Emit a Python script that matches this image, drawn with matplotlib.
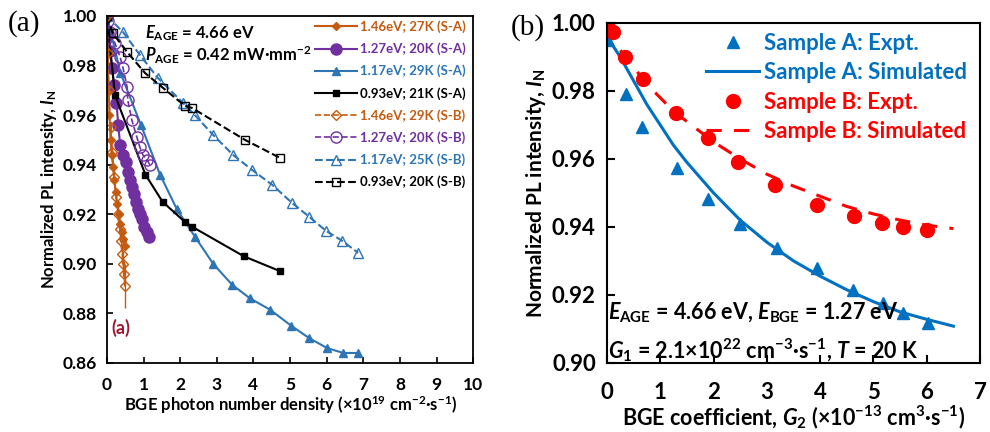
import numpy as np
import matplotlib.pyplot as plt
from matplotlib.lines import Line2D

plt.rcParams['font.family'] = ['Lato', 'DejaVu Sans']
plt.rcParams['font.weight'] = 'bold'
plt.rcParams['axes.labelweight'] = 'bold'
plt.rcParams['mathtext.fontset'] = 'custom'
plt.rcParams['mathtext.rm'] = 'Lato:bold'
plt.rcParams['mathtext.it'] = 'Lato:bold:italic'
plt.rcParams['mathtext.bf'] = 'Lato:bold'

# ---- panel (a) data: BGE photon density (1e19 cm^-2 s^-1) vs normalized PL
# sample A (filled markers, solid lines)
x_146A = [0, 0.02, 0.03, 0.05, 0.07, 0.10, 0.13, 0.17, 0.20, 0.24, 0.28, 0.32, 0.36, 0.40, 0.44, 0.48]
y_146A = [1.0, 0.990, 0.980, 0.970, 0.960, 0.950, 0.944, 0.939, 0.934, 0.929, 0.924, 0.920, 0.916, 0.913, 0.910, 0.907]
x_127A = [0, 0.03, 0.08, 0.14, 0.20, 0.26, 0.31, 0.36, 0.44, 0.52, 0.58, 0.63, 0.69, 0.74, 0.80, 0.85, 0.91, 0.96, 1.02, 1.09, 1.15]
y_127A = [1.0, 0.993, 0.986, 0.979, 0.972, 0.965, 0.956, 0.948, 0.944, 0.941, 0.937, 0.934, 0.931, 0.928, 0.925, 0.922, 0.920, 0.918, 0.915, 0.913, 0.911]
x_117A = [0, 0.37, 0.93, 1.45, 1.91, 2.40, 2.90, 3.42, 3.91, 4.45, 5.03, 5.52, 6.01, 6.45, 6.86]
y_117A = [1.0, 0.977, 0.956, 0.936, 0.922, 0.911, 0.900, 0.8915, 0.886, 0.8815, 0.875, 0.870, 0.866, 0.864, 0.864]
x_093A = [0, 0.22, 1.05, 1.52, 2.12, 2.32, 3.74, 4.73]
y_093A = [1.0, 0.968, 0.936, 0.925, 0.917, 0.915, 0.903, 0.897]
# sample B (open markers, dashed lines)
x_146B = [0, 0.02, 0.05, 0.10, 0.15, 0.20, 0.25, 0.30, 0.35, 0.38, 0.42, 0.45, 0.47, 0.50]
y_146B = [1.0, 0.985, 0.970, 0.955, 0.945, 0.935, 0.927, 0.920, 0.914, 0.909, 0.904, 0.900, 0.896, 0.891]
e_146B = [0.001, 0.002, 0.002, 0.002, 0.003, 0.003, 0.003, 0.003, 0.004, 0.004, 0.004, 0.005, 0.005, 0.009]
x_127B = [0, 0.03, 0.08, 0.22, 0.36, 0.44, 0.55, 0.57, 0.68, 0.82, 0.90, 0.98, 1.09, 1.17]
y_127B = [1.0, 0.998, 0.9935, 0.989, 0.9835, 0.979, 0.9714, 0.966, 0.958, 0.951, 0.947, 0.944, 0.942, 0.940]
x_117B = [0, 0.44, 0.90, 1.39, 2.08, 2.40, 2.90, 3.44, 3.96, 4.51, 5.05, 5.52, 5.98, 6.42, 6.86]
y_117B = [1.0, 0.9935, 0.9843, 0.975, 0.9649, 0.960, 0.952, 0.944, 0.9379, 0.9319, 0.9246, 0.919, 0.9133, 0.9093, 0.9044]
x_093B = [0, 0.16, 0.55, 1.04, 1.53, 2.13, 2.32, 3.77, 4.73]
y_093B = [1.0, 0.993, 0.9855, 0.977, 0.971, 0.9637, 0.9629, 0.950, 0.9427]

# ---- panel (b) data: BGE coefficient G2 (1e-13 cm^3 s^-1)
xA_exp = [0.02, 0.36, 0.66, 1.31, 1.90, 2.50, 3.20, 3.94, 4.62, 5.18, 5.55, 6.02]
yA_exp = [0.995, 0.979, 0.9694, 0.9574, 0.9482, 0.9409, 0.9338, 0.928, 0.9215, 0.9176, 0.9147, 0.9118]
xB_exp = [0, 0.11, 0.34, 0.67, 1.29, 1.90, 2.46, 3.15, 3.94, 4.63, 5.16, 5.55, 6.00]
yB_exp = [1.0, 0.9974, 0.990, 0.9835, 0.9735, 0.9662, 0.9591, 0.9524, 0.9465, 0.9432, 0.9412, 0.940, 0.9391]
x_sim = [0, 0.25, 0.5, 0.75, 1.0, 1.25, 1.5, 2.0, 2.5, 3.0, 3.5, 4.0, 4.5, 5.0, 5.5, 6.0, 6.5]
yA_sim = [0.996, 0.990, 0.983, 0.976, 0.970, 0.964, 0.959, 0.950, 0.942, 0.9355, 0.930, 0.9255, 0.9215, 0.918, 0.915, 0.9128, 0.9108]
yB_sim = [0.999, 0.992, 0.987, 0.982, 0.978, 0.974, 0.971, 0.965, 0.960, 0.9555, 0.952, 0.949, 0.946, 0.9438, 0.942, 0.9405, 0.9395]

orange, purple, blue, black = '#C55A11', '#7030A0', '#2E75B6', 'black'
blue_b, red_b = '#0070C0', '#FF0000'

fig = plt.figure(figsize=(9.9, 4.32), dpi=100)
ax1 = fig.add_axes([0.108, 0.160, 0.370, 0.803])
ax2 = fig.add_axes([0.613, 0.160, 0.377, 0.787])

# panel (a)
h = []
h += ax1.plot(x_146A, y_146A, '-D', color=orange, ms=4, lw=1.5, label='1.46eV; 27K (S-A)')
h += ax1.plot(x_127A, y_127A, '-o', color=purple, ms=8, lw=1.5, label='1.27eV; 20K (S-A)')
h += ax1.plot(x_117A, y_117A, '-^', color=blue, ms=6, lw=1.5, label='1.17eV; 29K (S-A)')
h += ax1.plot(x_093A, y_093A, '-s', color=black, ms=5, lw=1.5, label='0.93eV; 21K (S-A)')
ax1.errorbar(x_146B, y_146B, yerr=e_146B, fmt='--D', color=orange, mfc='none', ms=5, lw=1.2,
             elinewidth=1, capsize=0)
h.append(Line2D([], [], ls='--', marker='D', color=orange, mfc='none', ms=5, lw=1.2,
                label='1.46eV; 29K (S-B)'))
h += ax1.plot(x_127B, y_127B, '--o', color=purple, mfc='none', ms=8, lw=1.2, label='1.27eV; 20K (S-B)')
h += ax1.plot(x_117B, y_117B, '--^', color=blue, mfc='none', ms=7, lw=1.5, label='1.17eV; 25K (S-B)')
h += ax1.plot(x_093B, y_093B, '--s', color=black, mfc='none', ms=6, lw=1.5, label='0.93eV; 20K (S-B)')

ax1.set_xlim(0, 10)
ax1.set_ylim(0.86, 1.00)
ax1.set_xticks(np.arange(0, 11, 1))
ax1.set_yticks(np.arange(0.86, 1.001, 0.02))
ax1.set_yticklabels(['%.2f' % v for v in np.arange(0.86, 1.001, 0.02)])
ax1.tick_params(direction='in', labelsize=12.5, length=4, width=1.2)
ax1.tick_params(axis='x', pad=10)
ax1.tick_params(axis='y', pad=7)
for lab in ax1.get_xticklabels() + ax1.get_yticklabels():
    lab.set_fontweight('bold')
for s in ax1.spines.values():
    s.set_linewidth(1.3)
ax1.set_xlabel('BGE photon number density (×10$^{19}$ cm$^{-2}$·s$^{-1}$)', fontsize=12, labelpad=1)
ax1.set_ylabel('Normalized PL intensity, $I_{\\mathrm{N}}$', fontsize=12, labelpad=3)
ax1.text(1.05, 0.993, '$E_{\\mathrm{AGE}}$ = 4.66 eV', fontsize=12, va='center')
ax1.text(1.05, 0.984, '$P_{\\mathrm{AGE}}$ = 0.42 mW·mm$^{-2}$', fontsize=12, va='center')
ax1.text(0.12, 0.874, '(a)', color='#A0142E', fontsize=13, va='center')
ax1.legend(handles=h, loc='upper right', bbox_to_anchor=(1.0, 1.01), frameon=False, fontsize=9.5,
           handlelength=3.2, handletextpad=0.2, labelspacing=0.72, borderaxespad=0.2,
           labelcolor='linecolor')

# panel (b)
ax2.plot(xA_exp, yA_exp, '^', color=blue_b, ms=9, ls='none', label='Sample A: Expt.')
ax2.plot(x_sim, yA_sim, '-', color=blue_b, lw=2.2, label='Sample A: Simulated')
ax2.plot(xB_exp, yB_exp, 'o', color=red_b, ms=10, ls='none', label='Sample B: Expt.')
ax2.plot(x_sim, yB_sim, '--', color=red_b, lw=2.2, dashes=(5, 4), label='Sample B: Simulated')

ax2.set_xlim(0, 7)
ax2.set_ylim(0.90, 1.00)
ax2.set_xticks(np.arange(0, 8, 1))
ax2.set_yticks(np.arange(0.90, 1.001, 0.02))
ax2.set_yticklabels(['%.2f' % v for v in np.arange(0.90, 1.001, 0.02)])
ax2.tick_params(direction='in', labelsize=16, length=6, width=1.5)
ax2.tick_params(axis='x', pad=14)
ax2.tick_params(axis='y', pad=8)
for lab in ax2.get_xticklabels() + ax2.get_yticklabels():
    lab.set_fontweight('bold')
for s in ax2.spines.values():
    s.set_linewidth(1.5)
ax2.set_xlabel('BGE coefficient, $G_{2}$ (×10$^{-13}$ cm$^{3}$·s$^{-1}$)', fontsize=15.5, labelpad=0)
ax2.set_ylabel('Normalized PL intensity, $I_{\\mathrm{N}}$', fontsize=15, labelpad=3)
ax2.text(0.02, 0.9147, '$E_{\\mathrm{AGE}}$ = 4.66 eV, $E_{\\mathrm{BGE}}$ = 1.27 eV', fontsize=15.5, va='center')
ax2.text(0.02, 0.9038, '$G_{1}$ = 2.1×10$^{22}$ cm$^{-3}$·s$^{-1}$, $T$ = 20 K', fontsize=15.5, va='center')
ax2.legend(loc='upper right', bbox_to_anchor=(1.0, 1.01), frameon=False, fontsize=16, handlelength=2.4,
           handletextpad=0.2, labelspacing=0.38, borderaxespad=0.2, labelcolor='linecolor')

fig.text(0.008, 0.93, '(a)', fontsize=21, family='Liberation Serif', weight='normal')
fig.text(0.516, 0.92, '(b)', fontsize=21, family='Liberation Serif', weight='normal')

fig.savefig('out.png', dpi=100)
